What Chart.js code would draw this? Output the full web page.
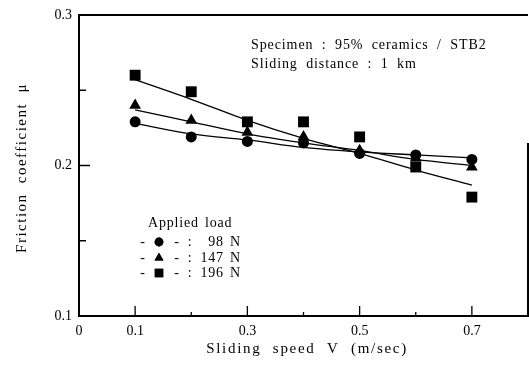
<!DOCTYPE html>
<html>
<head>
<meta charset="utf-8">
<script src="https://cdn.jsdelivr.net/npm/chart.js@4.4.1/dist/chart.umd.min.js"></script>
<style>
html,body{margin:0;padding:0;background:#fff;}
canvas{display:block;}
</style>
</head>
<body>
<canvas id="c" width="529" height="380"></canvas>
<script>
// ---- data ----
const speeds = [0.1, 0.2, 0.3, 0.4, 0.5, 0.6, 0.7];
const mu98  = [0.229, 0.219, 0.216, 0.215, 0.208, 0.207, 0.204];
const mu147 = [0.240, 0.230, 0.222, 0.219, 0.210, 0.205, 0.199];
const mu196 = [0.260, 0.249, 0.229, 0.229, 0.219, 0.199, 0.179];
const fit98  = [0.228, 0.221, 0.217, 0.212, 0.209, 0.207, 0.205];
const fit147 = [0.237, 0.229, 0.221, 0.215, 0.210, 0.204, 0.200];
const fit196 = [0.257, 0.244, 0.230, 0.218, 0.208, 0.197, 0.187];
const seriesNames = ['98 N', '147 N', '196 N'];
const xLabelTicks = [0, 0.1, 0.3, 0.5, 0.7];
const xMinorTicks = [0.2, 0.4, 0.6];
const yLabelTicks = [0.1, 0.2, 0.3];
const yMinorTicks = [0.15, 0.25];
const xTitle = 'Sliding speed V (m/sec)';
const yTitle = 'Friction coefficient \u03bc';
const noteLines = ['Specimen : 95% ceramics / STB2', 'Sliding distance : 1 km'];
const legendTitle = 'Applied load';

const SERIF = '"Liberation Serif", "DejaVu Serif", serif';
const pts = (ys) => speeds.map((x, i) => ({x, y: ys[i]}));

const styles = ['circle', 'triangle', 'rect'];
const radii = [5.5, 6.8, 7.7];

const lineSets = [fit98, fit147, fit196].map((d, i) => ({
  label: 'fit ' + seriesNames[i], data: pts(d), showLine: true,
  borderColor: '#000', borderWidth: 1.3, pointRadius: 0, tension: 0.4,
  cubicInterpolationMode: 'monotone', order: 2
}));
const pointSets = [mu98, mu147, mu196].map((d, i) => ({
  label: seriesNames[i], data: pts(d), showLine: false,
  pointStyle: styles[i], pointRadius: radii[i], pointBackgroundColor: '#000',
  pointBorderColor: '#000', pointBorderWidth: 0, order: 1
}));

const decor = {
  id: 'decor',
  afterDraw(chart) {
    const {ctx, chartArea: a, scales: {x, y}} = chart;
    ctx.save();
    ctx.strokeStyle = '#000';
    ctx.fillStyle = '#000';
    // top & right frame
    ctx.lineWidth = 2;
    ctx.beginPath();
    ctx.moveTo(a.left, a.top); ctx.lineTo(a.right, a.top);
    ctx.moveTo(a.right, y.getPixelForValue(0.215)); ctx.lineTo(a.right, a.bottom);
    ctx.stroke();
    // inward ticks
    ctx.lineWidth = 1.3;
    ctx.beginPath();
    xLabelTicks.forEach(v => { if (v === 0) return; const px = x.getPixelForValue(v); ctx.moveTo(px, a.bottom); ctx.lineTo(px, a.bottom - 10); });
    xMinorTicks.forEach(v => { const px = x.getPixelForValue(v); ctx.moveTo(px, a.bottom); ctx.lineTo(px, a.bottom - 4); });
    yLabelTicks.forEach(v => { const py = y.getPixelForValue(v); ctx.moveTo(a.left, py); ctx.lineTo(a.left + 11, py); });
    yMinorTicks.forEach(v => { const py = y.getPixelForValue(v); ctx.moveTo(a.left, py); ctx.lineTo(a.left + 7, py); });
    ctx.stroke();

    // note text
    ctx.font = '14px ' + SERIF;
    ctx.textBaseline = 'middle';
    ctx.textAlign = 'left';
    ctx.letterSpacing = '0.9px';
    ctx.wordSpacing = '4px';
    ctx.fillText(noteLines[0], 251, 45);
    ctx.fillText(noteLines[1], 251, 64);

    // legend
    ctx.letterSpacing = '0.8px';
    ctx.wordSpacing = '2px';
    ctx.font = '14px ' + SERIF;
    ctx.fillText(legendTitle, 148, 223);
    const rows = [242, 258, 273];
    const lr = [4.4, 5.2, 6];
    rows.forEach((ry, i) => {
      ctx.textAlign = 'center';
      ctx.fillText('-', 143, ry);
      ctx.fillText('-', 177, ry);
      ctx.fillText(':', 190, ry);
      ctx.textAlign = 'right';
      ctx.fillText(seriesNames[i], 241, ry);
      Chart.helpers.drawPoint(ctx, {pointStyle: styles[i], radius: lr[i], rotation: 0, borderWidth: 0}, 159, ry);
      ctx.fill();
    });

    // axis titles
    ctx.textAlign = 'center';
    ctx.font = '15px ' + SERIF;
    ctx.letterSpacing = '1.7px';
    ctx.wordSpacing = '6px';
    ctx.fillText(xTitle, 307, 349);
    ctx.save();
    ctx.translate(22, 168);
    ctx.rotate(-Math.PI / 2);
    ctx.letterSpacing = '1.5px';
    ctx.wordSpacing = '5px';
    ctx.fillText(yTitle, 0, 0);
    ctx.restore();
    ctx.restore();
  }
};

new Chart(document.getElementById('c'), {
  type: 'scatter',
  data: {datasets: [...pointSets, ...lineSets]},
  options: {
    responsive: false, animation: false, devicePixelRatio: 1,
    layout: {autoPadding: false, padding: {top: 15, right: 1, left: 0, bottom: 0}},
    plugins: {legend: {display: false}, tooltip: {enabled: false}},
    scales: {
      x: {
        type: 'linear', min: 0, max: 0.8,
        afterBuildTicks: s => { s.ticks = xLabelTicks.map(v => ({value: v})); },
        afterFit: s => { s.height = 64; s.paddingRight = 0; s.paddingLeft = 0; },
        grid: {display: false, drawTicks: false},
        border: {display: true, color: '#000', width: 2},
        ticks: {color: '#000', padding: 7, maxRotation: 0, autoSkip: false,
          font: {family: SERIF, size: 14},
          callback: v => v === 0 ? '0' : v.toFixed(1)}
      },
      y: {
        type: 'linear', min: 0.1, max: 0.3,
        afterBuildTicks: s => { s.ticks = yLabelTicks.map(v => ({value: v})); },
        afterFit: s => { s.width = 79; s.paddingTop = 0; s.paddingBottom = 0; },
        grid: {display: false, drawTicks: false},
        border: {display: true, color: '#000', width: 2},
        ticks: {color: '#000', padding: 7, autoSkip: false,
          font: {family: SERIF, size: 14},
          callback: v => v.toFixed(1)}
      }
    }
  },
  plugins: [decor]
});
</script>
</body>
</html>
